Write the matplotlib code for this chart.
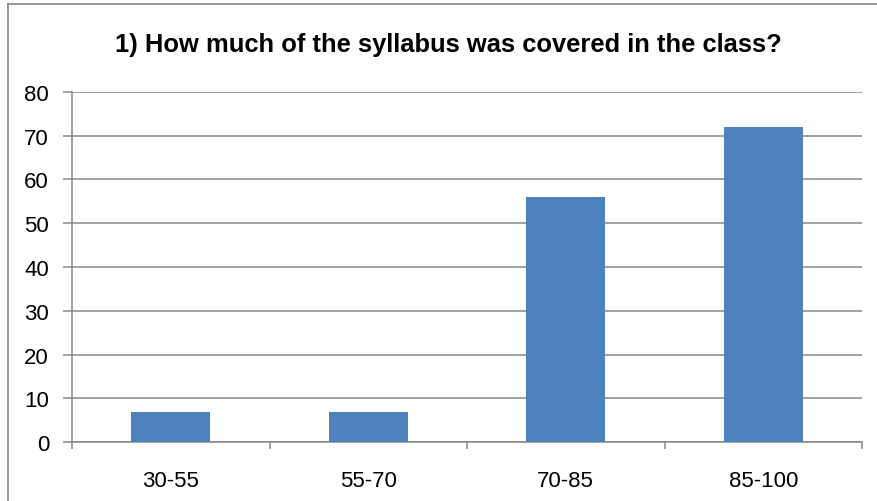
import matplotlib
matplotlib.use("Agg")
import matplotlib.pyplot as plt
from matplotlib.lines import Line2D

categories = ["30-55", "55-70", "70-85", "85-100"]
values = [7, 7, 56, 72]
y_ticks = [0, 10, 20, 30, 40, 50, 60, 70, 80]

plt.rcParams["font.family"] = ["Liberation Sans", "DejaVu Sans"]

fig = plt.figure(figsize=(8.77, 5.02), dpi=100)
ax = fig.add_axes([0.0821, 0.1169, 0.9008, 0.6984])

x = list(range(len(categories)))
ax.bar(x, values, width=0.4, color="#4F81BD", zorder=3)

ax.set_xlim(-0.5, len(categories) - 0.5)
ax.set_ylim(0, 80)
ax.set_yticks(y_ticks)
ax.set_yticklabels([str(v) for v in y_ticks], fontsize=16)
ax.yaxis.grid(True, color="#878787", linewidth=1.1, zorder=0)

# category labels between the boundary ticks
ax.set_xticks([i - 0.5 for i in range(len(categories) + 1)])
ax.set_xticklabels([])
ax.set_xticks(x, minor=True)
ax.set_xticklabels(categories, minor=True, fontsize=16)
ax.tick_params(axis="x", which="minor", length=0, pad=20)
ax.tick_params(axis="x", which="major", length=5, width=1.1, color="#878787")
ax.tick_params(axis="y", length=6.5, width=1.1, color="#878787", pad=10)

for s in ["top", "right"]:
    ax.spines[s].set_visible(False)
for s in ["left", "bottom"]:
    ax.spines[s].set_color("#878787")
    ax.spines[s].set_linewidth(1.1)

fig.text(0.511, 1 - 52.3 / 502, "1) How much of the syllabus was covered in the class?",
         ha="center", va="baseline", fontsize=18.4, fontweight="bold")

# chart outer border
fig.add_artist(Line2D([8 / 877, 8 / 877], [0, 1 - 4.7 / 502], transform=fig.transFigure,
                      color="#888888", linewidth=1.2))
fig.add_artist(Line2D([8 / 877, 1], [1 - 4.7 / 502, 1 - 4.7 / 502], transform=fig.transFigure,
                      color="#888888", linewidth=1.2))

fig.savefig("out.png", dpi=100)
